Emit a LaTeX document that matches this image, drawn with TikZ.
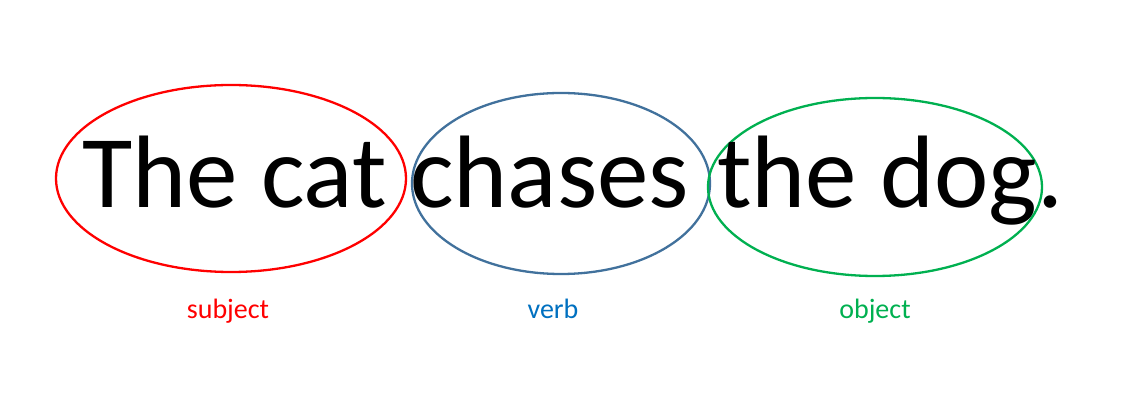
\documentclass[tikz,border=0pt]{standalone}
\usepackage{fontspec}
\setmainfont{Carlito}
\definecolor{subjred}{HTML}{FF0000}
\definecolor{verbblue}{HTML}{0070C0}
\definecolor{ringblue}{HTML}{41719C}
\definecolor{objgreen}{HTML}{00B050}
\begin{document}
\begin{tikzpicture}[x=1pt,y=-1pt,
  ring/.style={line width=2.3pt},
  word/.style={inner sep=0pt, anchor=base west, font=\fontsize{103}{120}\selectfont},
  tag/.style={inner sep=0pt, anchor=base, font=\fontsize{28}{32}\selectfont}]
\useasboundingbox (0,0) rectangle (1127,411);
\draw[ring, subjred] (231,178.5) ellipse [x radius=175, y radius=93.5];
\draw[ring, ringblue] (561,183.5) ellipse [x radius=149, y radius=90.5];
\draw[ring, objgreen] (875,187) ellipse [x radius=167, y radius=89];
\node[word] (w1) at (82,208) {The cat};
\node[word] (w2) at (410,208) {chases};
\node[word] (w3) at (717,208) {the dog.};
\node[tag, text=subjred] (subj) at (228,319) {subject};
\node[tag, text=verbblue] (verb) at (553,319) {verb};
\node[tag, text=objgreen] (obj) at (875,319) {object};
\end{tikzpicture}
\end{document}
